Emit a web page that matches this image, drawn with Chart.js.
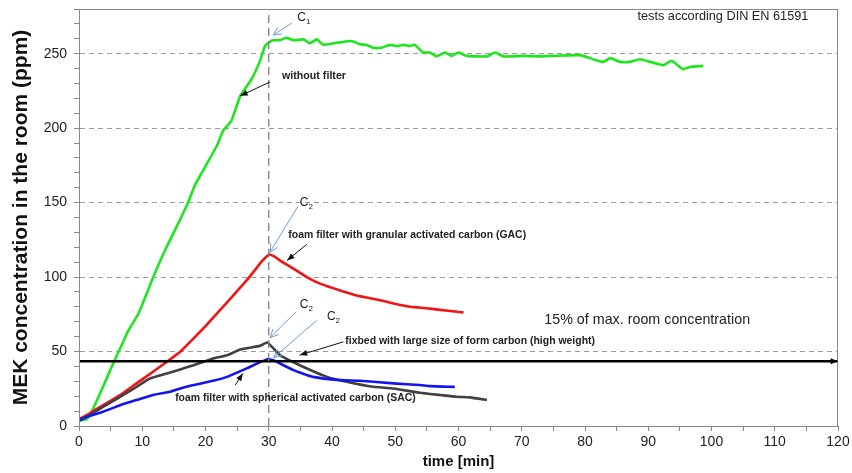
<!DOCTYPE html>
<html>
<head>
<meta charset="utf-8">
<script src="https://cdn.jsdelivr.net/npm/chart.js@4.4.0/dist/chart.umd.min.js"></script>
<style>
  html, body { margin: 0; padding: 0; background: #fff; }
  #wrap { width: 852px; height: 473px; }
</style>
</head>
<body>
<div id="wrap"><canvas id="chart"></canvas></div>
<script>
// MEK concentration in the room, tests according DIN EN 61591

// without filter
const noFilterTime = [0, 1.2, 2, 3.8, 5.4, 6.5, 7.8, 9.4, 11.75, 13.6, 15.4, 17.2, 18.3, 19.9, 21.8, 22.8, 24.1, 25.5, 27.3, 28.6, 29.4, 30.5, 31.8, 32.8, 33.9, 35.5, 36.5, 37.6, 38.6, 40.2, 41.3, 43.1, 44.4, 45.5, 46.5, 47.8, 49.2, 50.2, 51.3, 52.3, 53.1, 54.4, 55.5, 56.5, 57.9, 58.9, 60, 61.3, 64.5, 65.8, 67.1, 70.3, 72.9, 74.5, 79.2, 81.3, 82.9, 84, 85.5, 87.1, 88.7, 90.3, 92.4, 93.7, 95.5, 96.6, 98.7];
const noFilterPpm = [3.6, 4.5, 9.6, 26.3, 42, 52, 64, 75.5, 100, 118, 133.5, 149.6, 161.4, 173.7, 188.2, 198.3, 205, 221.7, 233, 245, 255, 258.9, 259, 260.7, 259, 259.6, 257, 259.6, 256, 257, 257.6, 258.5, 256.3, 255.9, 254, 254, 255.9, 255.2, 255.9, 255.2, 255.9, 250.8, 250.8, 248.2, 250.8, 248.5, 250.8, 248.5, 248.2, 250.8, 248.2, 248.5, 248.2, 248.5, 249, 246.3, 244.5, 247, 244.5, 244.5, 246.3, 244.5, 242.3, 245.2, 239.6, 241.1, 241.8];

// foam filter with granular activated carbon (GAC)
const gacTime = [0, 1.5, 3.8, 6.5, 9.1, 11.7, 13.9, 16, 18.1, 20, 21.8, 23.2, 24.4, 26.5, 27.5, 29, 30.1, 31, 31.8, 33.4, 36, 38.1, 41.3, 43.9, 47.6, 51.8, 55.5, 58, 60.8];
const gacPpm = [4.5, 8, 14, 20.8, 28.6, 36.4, 43.1, 49.8, 58.7, 67, 75.5, 82, 87.7, 97.8, 103, 111, 115.2, 113.5, 111, 107, 100, 95.6, 91, 87.7, 84.4, 80.4, 78.8, 77.5, 76.2];

// fixbed with large size of form carbon (high weight)
const fixbedTime = [0, 1.5, 3.8, 6.5, 9.1, 11.2, 13.9, 16, 18.1, 21.2, 23.4, 25.5, 28.6, 29.8, 31.8, 34.9, 39.2, 42.3, 46.5, 49.7, 53.9, 57.1, 59.7, 61.8, 64.5];
const fixbedPpm = [4, 7, 12.9, 19.6, 26.3, 31.9, 35.3, 38, 40.8, 45.3, 47.5, 51.3, 53.8, 56, 47.5, 40.8, 33, 29.7, 26.3, 25.2, 22.3, 20.8, 19.6, 19.2, 17.4];

// foam filter with spherical activated carbon (SAC)
const sacTime = [0, 1.5, 3.8, 6.5, 9.1, 11.7, 14.4, 16, 18.1, 21.2, 23.4, 26.5, 29.8, 30.7, 33.9, 37, 41.3, 44.4, 49.7, 53.9, 55.5, 59.4];
const sacPpm = [3.5, 6.5, 9.6, 14, 17.4, 20.8, 23, 25.2, 27.5, 30.4, 33, 38.7, 44.9, 44.2, 37.5, 33, 30.8, 30.4, 28.6, 27.5, 26.8, 26.3];

// 15% of max. room concentration
const thresholdTime = [0, 120];
const thresholdPpm = [43.5, 43.5];

// time of maximum concentration
const peakTime = 30;

const pts = (t, v) => t.map((x, i) => ({ x: x, y: v[i] }));

const FONT = '"Liberation Sans", Arial, sans-serif';

function arrow(ctx, x1, y1, x2, y2, color, filled) {
  const ang = Math.atan2(y2 - y1, x2 - x1);
  ctx.strokeStyle = color;
  ctx.fillStyle = color;
  ctx.lineWidth = 1;
  ctx.beginPath();
  ctx.moveTo(x1, y1);
  ctx.lineTo(x2, y2);
  ctx.stroke();
  const len = filled ? 8 : 9, spread = filled ? 0.38 : 0.45;
  const ax = x2 - len * Math.cos(ang - spread), ay = y2 - len * Math.sin(ang - spread);
  const bx = x2 - len * Math.cos(ang + spread), by = y2 - len * Math.sin(ang + spread);
  ctx.beginPath();
  if (filled) {
    ctx.moveTo(x2, y2); ctx.lineTo(ax, ay); ctx.lineTo(bx, by); ctx.closePath(); ctx.fill();
  } else {
    ctx.moveTo(ax, ay); ctx.lineTo(x2, y2); ctx.lineTo(bx, by); ctx.stroke();
  }
}

function fitText(ctx, text, x, y, weight, size, width, align) {
  ctx.font = weight + ' ' + size + 'px ' + FONT;
  const w = ctx.measureText(text).width;
  const s = width ? size * width / w : size;
  ctx.font = weight + ' ' + s.toFixed(2) + 'px ' + FONT;
  ctx.textAlign = align || 'left';
  ctx.textBaseline = 'middle';
  ctx.fillText(text, x, y);
}

function subC(ctx, x, y, sub) {
  ctx.fillStyle = '#222';
  ctx.textAlign = 'left';
  ctx.textBaseline = 'middle';
  ctx.font = '12px ' + FONT;
  ctx.fillText('C', x, y);
  const w = ctx.measureText('C').width;
  ctx.font = '8px ' + FONT;
  ctx.fillText(sub, x + w, y + 4);
}

const overlay = {
  id: 'overlay',
  afterDatasetsDraw(chart) {
    const { ctx, chartArea: a, scales: { x, y } } = chart;
    const px = t => x.getPixelForValue(t);
    const py = v => y.getPixelForValue(v);
    ctx.save();

    // frame
    ctx.strokeStyle = '#888';
    ctx.lineWidth = 1;
    ctx.strokeRect(Math.round(a.left) + 0.5, Math.round(a.top) + 0.5, Math.round(a.right - a.left) - 1, Math.round(a.bottom - a.top));

    // arrow head of the 15% line
    arrow(ctx, px(118), py(thresholdPpm[1]), px(120), py(thresholdPpm[1]), '#000', true);

    const blue = '#6f9bd3';
    // C labels with arrows
    subC(ctx, px(34.5), py(274), '1');
    arrow(ctx, px(33.7), py(270.6), px(30.7), py(262.6), blue, false);
    subC(ctx, px(34.9), py(150.2), '2');
    arrow(ctx, px(34.6), py(147.4), px(30.2), py(116.7), blue, false);
    subC(ctx, px(34.9), py(81.7), '2');
    arrow(ctx, px(34.3), py(76.6), px(30.2), py(59.4), blue, false);
    subC(ctx, px(39.2), py(73.2), '2');
    arrow(ctx, px(37.6), py(71), px(30.8), py(46), blue, false);

    // series annotations
    ctx.fillStyle = '#222';
    fitText(ctx, 'without filter', px(32.1), py(235.1), 'bold', 10, 64);
    arrow(ctx, px(30.2), py(231), px(25.5), py(221.7), '#111', true);

    ctx.fillStyle = '#222';
    fitText(ctx, 'foam filter with granular activated carbon (GAC)', px(33.1), py(127.9), 'bold', 10, 238);
    arrow(ctx, px(36), py(121.9), px(32.9), py(111.2), '#111', true);

    ctx.fillStyle = '#222';
    fitText(ctx, 'fixbed with large size of form carbon (high weight)', px(42.1), py(56.9), 'bold', 10, 250);
    arrow(ctx, px(41.8), py(56.5), px(34.9), py(47.6), '#111', true);

    ctx.fillStyle = '#222';
    fitText(ctx, 'foam filter with spherical activated carbon (SAC)', px(15.2), py(18.6), 'bold', 10, 241);
    arrow(ctx, px(24.7), py(27.5), px(25.9), py(35.3), '#111', true);

    ctx.fillStyle = '#222';
    fitText(ctx, '15% of max. room concentration', px(106.1), py(71), 'normal', 15, 206, 'right');
    fitText(ctx, 'tests according DIN EN 61591', px(88.3), py(275.3), 'normal', 12, 171);

    ctx.restore();
  }
};

const lineStyle = (color, w) => ({
  borderColor: color,
  backgroundColor: color,
  borderWidth: w,
  pointRadius: 0,
  tension: 0.15,
  fill: false
});

new Chart(document.getElementById('chart'), {
  type: 'line',
  data: {
    datasets: [
      Object.assign({ label: 'time of maximum', data: pts([peakTime, peakTime], [0, 280]), borderDash: [8, 5], tension: 0 }, lineStyle('#808080', 1.3)),
      Object.assign({ label: '15% of max. room concentration', data: pts(thresholdTime, thresholdPpm), tension: 0 }, lineStyle('#000000', 2.5)),
      Object.assign({ label: 'foam filter with spherical activated carbon (SAC)', data: pts(sacTime, sacPpm) }, lineStyle('#1414f0', 2.6)),
      Object.assign({ label: 'fixbed with large size of form carbon (high weight)', data: pts(fixbedTime, fixbedPpm) }, lineStyle('#404040', 2.6)),
      Object.assign({ label: 'foam filter with granular activated carbon (GAC)', data: pts(gacTime, gacPpm) }, lineStyle('#f01414', 2.6)),
      Object.assign({ label: 'without filter', data: pts(noFilterTime, noFilterPpm) }, lineStyle('#1ee61e', 2.6))
    ]
  },
  options: {
    responsive: true,
    maintainAspectRatio: false,
    animation: false,
    layout: { padding: { left: 0, right: 14, top: 9, bottom: 0 } },
    plugins: {
      legend: { display: false },
      tooltip: { enabled: false }
    },
    scales: {
      x: {
        type: 'linear',
        min: 0,
        max: 120,
        ticks: {
          stepSize: 5,
          autoSkip: false,
          maxRotation: 0,
          padding: 3,
          color: '#222',
          font: { family: FONT, size: 14 },
          callback: v => (v % 10 === 0 ? v : '')
        },
        grid: { drawOnChartArea: false, tickLength: 5, tickColor: '#888' },
        border: { color: '#888' },
        title: {
          display: true,
          text: 'time [min]',
          color: '#111',
          font: { family: FONT, size: 15, weight: 'bold' },
          padding: { top: 0, bottom: 2 }
        },
        afterFit: s => { s.height = 47; s.paddingLeft = 0; s.paddingRight = 0; }
      },
      y: {
        min: 0,
        max: 280,
        ticks: {
          stepSize: 10,
          autoSkip: false,
          padding: 7,
          color: '#222',
          font: { family: FONT, size: 14 },
          callback: v => (v % 50 === 0 ? v : '')
        },
        grid: {
          color: c => (c.tick && c.tick.value % 50 === 0 && c.tick.value > 0 && c.tick.value < 280 ? '#9a9a9a' : 'rgba(0,0,0,0)'),
          tickColor: '#888',
          tickLength: 5
        },
        border: { color: '#888', dash: [5, 4] },
        title: {
          display: true,
          text: 'MEK concentration in the room (ppm)',
          color: '#111',
          font: { family: FONT, size: 21, weight: 'bold' },
          padding: { top: 9, bottom: 0 }
        },
        afterFit: s => { s.width = 79; s.paddingTop = 0; s.paddingBottom = 0; }
      }
    }
  },
  plugins: [overlay]
});
</script>
</body>
</html>
